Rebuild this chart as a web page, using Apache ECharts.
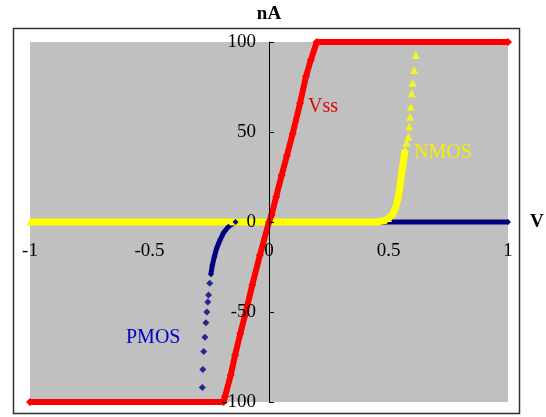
<!DOCTYPE html>
<html>
<head>
<meta charset="utf-8">
<script src="https://cdn.jsdelivr.net/npm/echarts@6/dist/echarts.min.js"></script>
<style>
  html, body { margin: 0; padding: 0; background: #fff; }
  #chart { width: 546px; height: 417px; }
</style>
</head>
<body>
<div id="chart"></div>
<script>
// x ticks (V) and y ticks (nA)
const xTicks = [-1, -0.5, 0, 0.5, 1]
const yTicks = [-100, -50, 0, 50, 100]

// Vss curve
const vssV = [-1, -0.19, -0.184, -0.16, -0.142, -0.12, -0.1, -0.07, -0.038, 0, 0.011, 0.03, 0.053, 0.075, 0.099, 0.13, 0.155, 0.175, 0.2, 1]
const vssI = [-100, -100, -97, -85, -74, -62, -51.7, -35, -18.3, 0, 4, 14, 26, 37, 49, 66, 81, 90, 100, 100]

// PMOS: solid part and the sparse dots
const pmosV = [1, -0.14, -0.17, -0.19, -0.205, -0.219, -0.228, -0.237, -0.243]
const pmosI = [0, 0, -2.6, -6, -10, -14.6, -19, -23.9, -29]
const pmosDotV = [-0.248, -0.253, -0.256, -0.26, -0.264, -0.268, -0.273, -0.277, -0.279]
const pmosDotI = [-34, -40.6, -44.4, -50, -56, -64, -72, -82, -92]

// NMOS: solid part and the sparse dots
const nmosV = [-1, 0.45, 0.48, 0.5, 0.52, 0.532, 0.541, 0.548, 0.555, 0.562, 0.569]
const nmosI = [0, 0, 0.8, 2, 4.8, 9, 14, 20, 27, 33, 40]
const nmosDotV = [0.576, 0.583, 0.587, 0.59, 0.593, 0.597, 0.601, 0.607, 0.614]
const nmosDotI = [44, 47.4, 53, 58.5, 64, 71.5, 77.4, 84.4, 92.8]

function pairs(xs, ys) {
  return xs.map((x, i) => [x, ys[i]])
}

const serif = "'Liberation Serif', 'DejaVu Serif', serif"
const RED = "#ff0000"
const NAVY = "#000080"
const YELLOW = "#ffff00"

// grid box, axes cross in the middle of it
const gLeft = 30, gTop = 42, gW = 478, gH = 360

let myChart = echarts.init(document.getElementById("chart"))
myChart.setOption({
  animation: false,
  backgroundColor: "#fff",
  grid: {
    left: gLeft,
    top: gTop,
    width: gW,
    height: gH,
    containLabel: false,
    outerBoundsMode: "none",
    show: true,
    backgroundColor: "#c0c0c0",
    borderWidth: 0,
  },
  xAxis: {
    type: "value",
    position: "bottom",
    offset: -gH / 2,
    z: 5,
    min: xTicks[0],
    max: xTicks[xTicks.length - 1],
    interval: 0.5,
    name: "V",
    nameLocation: "end",
    nameGap: 22,
    nameTextStyle: { fontFamily: serif, fontSize: 19, fontWeight: "bold", color: "#000" },
    splitLine: { show: false },
    // the curves hide the x axis line in the original
    axisLine: { show: false, onZero: false },
    axisTick: { show: false },
    axisLabel: {
      margin: 20,
      fontFamily: serif,
      fontSize: 19,
      color: "#000",
    },
  },
  yAxis: {
    type: "value",
    position: "left",
    offset: -gW / 2,
    z: 5,
    min: yTicks[0],
    max: yTicks[yTicks.length - 1],
    interval: 50,
    name: "nA",
    nameLocation: "end",
    nameGap: 18,
    nameTextStyle: { fontFamily: serif, fontSize: 19, fontWeight: "bold", color: "#000" },
    splitLine: { show: false },
    axisLine: { onZero: false, lineStyle: { color: "#000", width: 1 } },
    axisTick: { show: true, inside: true, length: 5, lineStyle: { color: "#000" } },
    axisLabel: {
      margin: 13,
      fontFamily: serif,
      fontSize: 19,
      color: "#000",
    },
  },
  graphic: [
    {
      type: "rect",
      shape: { x: 13.5, y: 28.5, width: 506, height: 385 },
      style: { fill: "none", stroke: "#333", lineWidth: 1.5 },
      z: -1,
      silent: true,
    },
    {
      type: "text",
      left: 308,
      top: 97,
      style: { text: "Vss", fill: "#e60000", font: "20px " + serif },
    },
    {
      type: "text",
      left: 414,
      top: 143,
      style: { text: "NMOS", fill: "#f4f000", font: "20px " + serif },
    },
    {
      type: "text",
      left: 126,
      top: 328,
      style: { text: "PMOS", fill: "#0000c0", font: "20px " + serif },
    },
  ],
  series: [
    {
      name: "PMOS",
      type: "line",
      data: pairs(pmosV, pmosI),
      symbol: "diamond",
      symbolSize: 6,
      showAllSymbol: true,
      itemStyle: { color: NAVY },
      lineStyle: { color: NAVY, width: 5 },
    },
    {
      name: "PMOS dots",
      type: "scatter",
      data: pairs(pmosDotV, pmosDotI),
      symbol: "diamond",
      symbolSize: 7,
      itemStyle: { color: NAVY },
    },
    {
      name: "NMOS",
      type: "line",
      data: pairs(nmosV, nmosI),
      symbol: "triangle",
      symbolSize: 7,
      showAllSymbol: true,
      itemStyle: { color: YELLOW },
      lineStyle: { color: YELLOW, width: 7 },
    },
    {
      name: "NMOS dots",
      type: "scatter",
      data: pairs(nmosDotV, nmosDotI),
      symbol: "triangle",
      symbolSize: 8,
      itemStyle: { color: YELLOW },
    },
    {
      name: "Vss",
      type: "line",
      data: pairs(vssV, vssI),
      symbol: "diamond",
      symbolSize: 8,
      showAllSymbol: true,
      itemStyle: { color: RED },
      lineStyle: { color: RED, width: 6 },
    },
  ],
})
</script>
</body>
</html>
